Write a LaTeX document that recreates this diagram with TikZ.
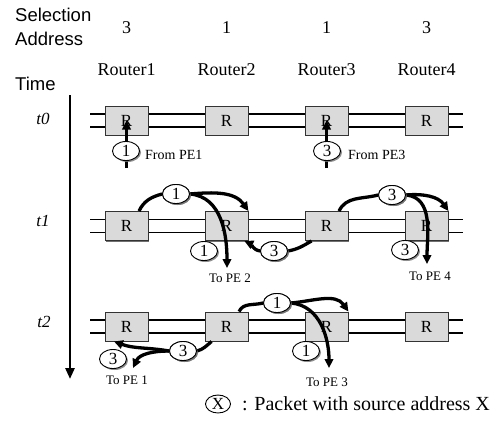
\documentclass[tikz,border=0pt]{standalone}
\usepackage{fontspec}
\setmainfont{Liberation Serif}
\setsansfont{Liberation Sans}
\usetikzlibrary{shapes.geometric,shadows,arrows.meta}
\definecolor{boxgray}{HTML}{DADADA}
\begin{document}
\begin{tikzpicture}[x=1pt,y=1pt,
  router/.style={draw=black!80,line width=0.9pt,fill=boxgray,minimum width=43pt,
    minimum height=29pt,inner sep=0pt,font=\fontsize{17}{17}\selectfont,
    drop shadow={shadow xshift=1pt,shadow yshift=-1pt,fill=black!70,opacity=0.8}},
  pkt/.style={ellipse,draw,line width=0.9pt,fill=white,minimum width=27pt,
    minimum height=19pt,inner sep=0pt,font=\fontsize{17}{17}\selectfont,
    drop shadow={shadow xshift=1.5pt,shadow yshift=-1.5pt,fill=black!55,opacity=0.8}},
  head/.style={inner sep=0pt,font=\sffamily\fontsize{18.5}{18.5}\selectfont},
  big/.style={inner sep=0pt,font=\fontsize{18}{18}\selectfont},
  tlabel/.style={inner sep=0pt,font=\itshape\fontsize{17}{17}\selectfont},
  small/.style={inner sep=0pt,font=\fontsize{13}{13}\selectfont},
  rail/.style={line width=1.8pt},
  flow/.style={line width=3.3pt},
  flowto/.style={flow,-{Triangle[length=9pt,width=8.5pt]}},
]
\useasboundingbox (0,0) rectangle (500,-432);

% column headings
\node[head,anchor=base west] (sel)  at (15,-21.7) {Selection};
\node[head,anchor=base west] (addr) at (15,-45.7) {Address};
\node[head,anchor=base west] (time) at (15,-90.7) {Time};
\foreach \x/\s/\k in {126.5/3/1,226.5/1/2,326.5/1/3,426.5/3/4}{
  \node[big,anchor=base] (sa\k) at (\x,-33.3) {\s};
  \node[big,anchor=base] (rl\k) at (\x,-75.5) {Router\k};
}

% time axis
\coordinate (ttop) at (70,-95);
\coordinate (tbot) at (70,-379);
\draw[line width=2.6pt,-{Triangle[length=11pt,width=9pt]}] (ttop) -- (tbot);
\node[tlabel] (t0) at (43,-119) {t0};
\node[tlabel] (t1) at (43,-221) {t1};
\node[tlabel] (t2) at (44,-322) {t2};

% rails and routers for each time step
\foreach \y/\r in {120.5/0,226/1,326.5/2}{
  \draw[rail] (90,-\y+6.5) -- (463,-\y+6.5);
  \draw[rail] (90,-\y-6.5) -- (463,-\y-6.5);
  \foreach \x/\k in {126.5/1,226.5/2,326.5/3,426.5/4}
    \node[router] (r\r\k) at (\x,-\y) {R};
}

% ---- t0: packets injected from PE1 and PE3
\coordinate (s01) at (126.5,-168);
\coordinate (s03) at (326.5,-168);
\draw[flowto] (s01) -- (r01.center);
\draw[flowto] (s03) -- (r03.center);
\node[pkt] (p01) at (126,-151) {1};
\node[pkt] (p03) at (327,-151) {3};
\node[small,font=\fontsize{14}{14}\selectfont,anchor=west] (f1) at (145,-155) {From PE1};
\node[small,font=\fontsize{14}{14}\selectfont,anchor=west] (f3) at (348,-155) {From PE3};

% ---- t1
\coordinate (e12) at (227,-268);
\coordinate (e14) at (427,-264);
\node[pkt] (p11) at (176,-194) {1};
\node[pkt] (p14) at (392,-195) {3};
\node[pkt] (p13) at (274,-251) {3};
\draw[flow] (r11.50) to[out=65,in=195] (p11.west);
\draw[flowto] (p11.east) to[out=5,in=125] (r12.north east);
\draw[flowto] (p11.east) to[out=-5,in=90] (e12);
\draw[flow] (r13.50) to[out=65,in=195] (p14.west);
\draw[flowto] (p14.east) to[out=5,in=125] (r14.north east);
\draw[flowto] (p14.east) to[out=-5,in=90] (e14);
\draw[flow] (r13.-135) to[out=-150,in=10] (p13.east);
\draw[flowto] (p13.west) to[out=170,in=-25] (r12.-40);
\node[pkt] (p11) at (176,-194) {1};
\node[pkt] (p14) at (392,-195) {3};
\node[pkt] (p13) at (274,-251) {3};
\node[pkt] (q12) at (204,-251) {1};
\node[pkt] (q14) at (405,-250) {3};
\node[small] (o2) at (230,-278) {To PE 2};
\node[small] (o4) at (430,-276) {To PE 4};

% ---- t2
\coordinate (e23) at (329,-368);
\coordinate (e21) at (133,-368);
\node[pkt] (p22) at (277,-303) {1};
\node[pkt] (p21) at (183,-351) {3};
\draw[flow] (r22.50) to[out=65,in=195] (p22.west);
\draw[flowto] (p22.east) to[out=5,in=125] (r23.north east);
\draw[flowto] (p22.east) to[out=-5,in=90] (e23);
\draw[flow] (r22.-135) to[out=-140,in=15] (p21.east);
\draw[flowto] (p21.west) to[out=170,in=-20] (r21.-130);
\draw[flowto] (p21.west) to[out=180,in=65] (e21);
\node[pkt] (p22) at (277,-303) {1};
\node[pkt] (p21) at (183,-351) {3};
\node[pkt] (q23) at (306,-351) {1};
\node[pkt] (q21) at (113,-359) {3};
\node[small] (o3) at (327,-382) {To PE 3};
\node[small] (o1) at (127,-380) {To PE 1};

% legend
\node[ellipse,draw,line width=0.9pt,minimum width=25pt,minimum height=18pt,
  inner sep=0pt,font=\fontsize{17}{17}\selectfont] (lx) at (218,-404) {X};
\node[big,font=\fontsize{20}{20}\selectfont,anchor=west] (lt) at (242,-404)
  {: Packet with source address X};
\end{tikzpicture}
\end{document}
